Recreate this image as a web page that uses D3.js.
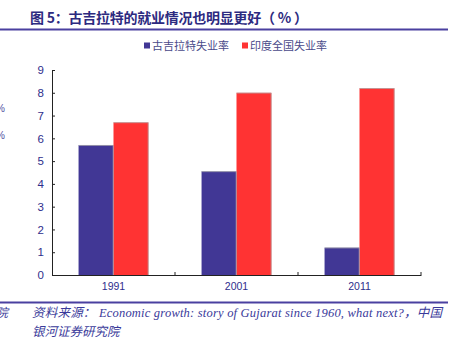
<!DOCTYPE html>
<html>
<head>
<meta charset="utf-8">
<script src="https://cdn.jsdelivr.net/npm/d3@7"></script>
<style>
  body { margin: 0; background: #fff; }
  svg { display: block; }
</style>
</head>
<body>
<svg width="451" height="345"></svg>
<script>
var svg = d3.select("svg");

// data
var years = ["1991", "2001", "2011"];
var series = ["古吉拉特失业率", "印度全国失业率"];
var gujarat = [5.7, 4.55, 1.2];
var india = [6.7, 8.0, 8.2];
var yTicks = [0, 1, 2, 3, 4, 5, 6, 7, 8, 9];
var colors = ["#413795", "#ff3333"];

var textBlue = "#2e2e8c";
var cjk = "'Noto Sans CJK SC', sans-serif";

// title + rules
svg.append("text")
  .attr("x", 30).attr("y", 23)
  .attr("font-family", cjk).attr("font-weight", "bold")
  .attr("font-size", 14).attr("fill", "#2d2a80")
  .attr("textLength", 278).attr("lengthAdjust", "spacing")
  .text("图 5：古吉拉特的就业情况也明显更好（ % ）");

svg.append("line").attr("x1", 0).attr("x2", 448).attr("y1", 29.5).attr("y2", 29.5)
  .attr("stroke", "#4a40a0").attr("stroke-width", 2);

// stray bits from the neighbouring column
svg.append("text").attr("x", -4).attr("y", 112).attr("font-size", 10)
  .attr("font-family", "Arial").attr("fill", "#5050a0").text("%");
svg.append("text").attr("x", -4).attr("y", 139).attr("font-size", 10)
  .attr("font-family", "Arial").attr("fill", "#5050a0").text("%");

// legend
var legendX = [144, 242];
series.forEach(function(s, i) {
  svg.append("rect").attr("x", legendX[i]).attr("y", 42.5).attr("width", 6).attr("height", 6)
    .attr("fill", colors[i]);
  svg.append("text").attr("x", legendX[i] + 8).attr("y", 50)
    .attr("font-family", cjk).attr("font-size", 11).attr("fill", "#4a4a8a")
    .text(s);
});

// scales
var x = d3.scaleBand().domain(years).range([52, 421]).padding(0);
var inner = d3.scaleBand().domain(series).range([0, x.bandwidth()])
  .paddingInner(0).paddingOuter(0.76);
var y = d3.scaleLinear().domain([0, 9]).range([275, 70]);

var rows = years.map(function(yr, i) {
  return { year: yr, values: [gujarat[i], india[i]] };
});

var groups = svg.append("g").selectAll("g").data(rows).enter().append("g")
  .attr("transform", function(d) { return "translate(" + x(d.year) + ",0)"; });

groups.selectAll("rect").data(function(d) {
    return d.values.map(function(v, i) { return { key: series[i], v: v, i: i }; });
  })
  .enter().append("rect")
  .attr("x", function(d) { return inner(d.key); })
  .attr("y", function(d) { return y(d.v); })
  .attr("width", inner.bandwidth())
  .attr("height", function(d) { return y(0) - y(d.v); })
  .attr("fill", function(d) { return colors[d.i]; });

// thin grey shadow edges on bars
groups.selectAll("path.edge").data(function(d) {
    return d.values.map(function(v, i) { return { key: series[i], v: v }; });
  })
  .enter().append("path")
  .attr("d", function(d) {
    var x0 = inner(d.key), x1 = x0 + inner.bandwidth(), y0 = y(d.v);
    return "M" + x0 + "," + (y0 + 0.3) + "H" + (x1 - 0.3) + "V" + y(0);
  })
  .attr("fill", "none").attr("stroke", "#aaaaaa").attr("stroke-width", 0.7);

// y axis
var yAxis = d3.axisLeft(y).tickValues(yTicks).tickSizeInner(-3).tickSizeOuter(0).tickPadding(8);
var gy = svg.append("g").attr("transform", "translate(52,0)").call(yAxis);
gy.select(".domain").attr("stroke", "#222");
gy.selectAll(".tick line").attr("stroke", "#222");
gy.selectAll("text").attr("font-family", "Arial").attr("font-size", 11.5).attr("fill", textBlue);

// x axis
var xAxis = d3.axisBottom(x).tickSize(0).tickPadding(8);
var gx = svg.append("g").attr("transform", "translate(0,275)").call(xAxis);
gx.select(".domain").attr("stroke", "#222");
gx.selectAll("text").attr("font-family", "Arial").attr("font-size", 10.5).attr("fill", textBlue);
gx.selectAll(".sep").data(years).enter().append("line")
  .attr("x1", function(d) { return x(d) + x.bandwidth(); })
  .attr("x2", function(d) { return x(d) + x.bandwidth(); })
  .attr("y1", 0).attr("y2", -3).attr("stroke", "#222");

// source
svg.append("line").attr("x1", 0).attr("x2", 448).attr("y1", 302.5).attr("y2", 302.5)
  .attr("stroke", "#4a40a0").attr("stroke-width", 2);

svg.append("text").attr("x", -4).attr("y", 317)
  .attr("font-family", cjk).attr("font-size", 12).attr("font-style", "italic")
  .attr("fill", "#3a3a9a").text("院");

svg.append("text").attr("x", 32).attr("y", 317)
  .attr("font-family", "'Liberation Serif', " + cjk).attr("font-size", 12.5)
  .attr("font-style", "italic").attr("fill", "#3a3a9a")
  .attr("textLength", 410).attr("lengthAdjust", "spacing")
  .text("资料来源：  Economic growth: story of Gujarat since 1960, what next?，中国");

svg.append("text").attr("x", 32).attr("y", 336)
  .attr("font-family", cjk).attr("font-size", 12.5)
  .attr("font-style", "italic").attr("fill", "#3a3a9a")
  .text("银河证券研究院");
</script>
</body>
</html>
